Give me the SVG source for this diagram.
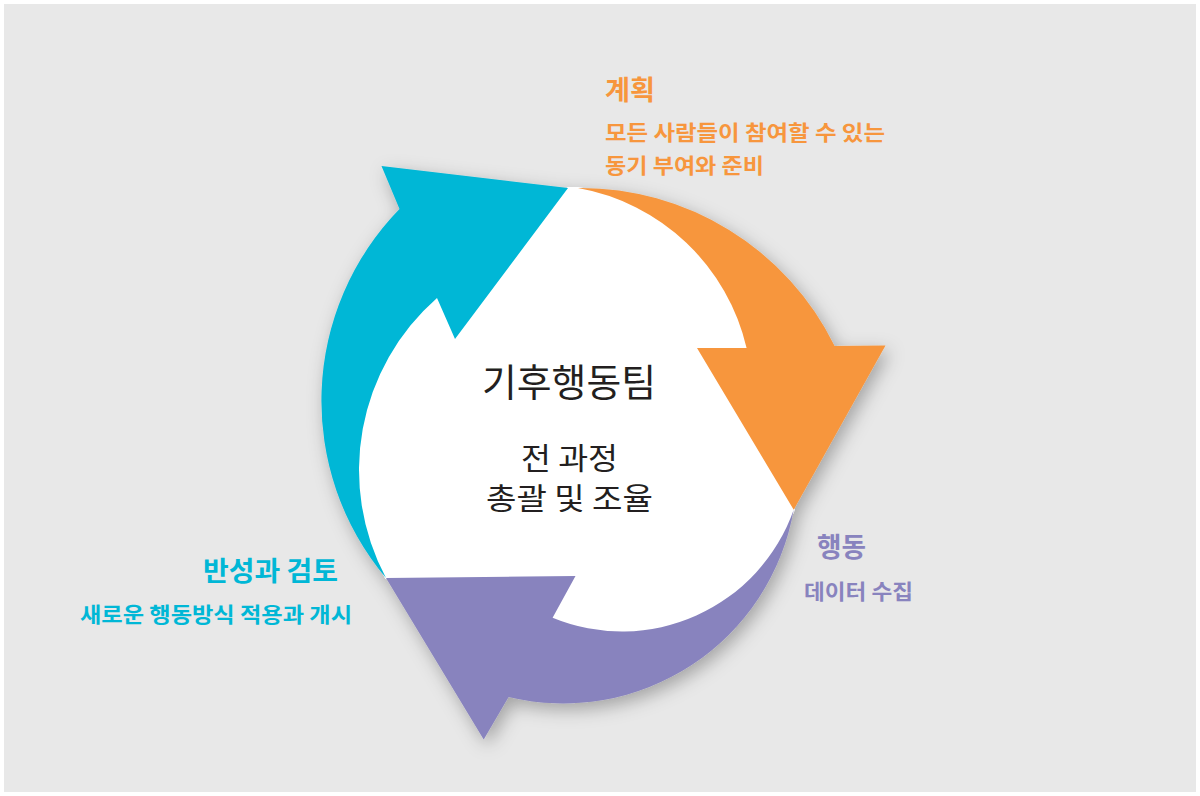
<svg xmlns="http://www.w3.org/2000/svg" width="1200" height="796" viewBox="0 0 1200 796">
  <style>
    .kr { font-family: "Noto Sans CJK KR", "Noto Sans", sans-serif; }
    .title { font-size: 27px; font-weight: bold; }
    .sub { font-size: 21px; font-weight: bold; }
    .center { fill: #231f20; text-anchor: middle; }
    .orange { fill: #F7963D; }
    .cyan { fill: #00B7D6; }
    .purple { fill: #8883BE; }
  </style>
  <defs>
    <filter id="shadow" x="-20%" y="-20%" width="140%" height="140%">
      <feDropShadow dx="4" dy="6" stdDeviation="9" flood-color="#000" flood-opacity="0.3"/>
    </filter>
  </defs>
  <rect x="0" y="0" width="1200" height="796" fill="#ffffff"/>
  <rect x="4" y="4" width="1192" height="788" fill="#e8e8e8"/>

  <g id="cycle" filter="url(#shadow)">
    <path id="hub" fill="#ffffff" stroke="#ffffff" stroke-width="2"
      d="M578,188 A211,211 0 0 1 746.6,348 L697,348 L793.7,509.7 A182,182 0 0 1 552.6,617.7 L575.5,576 L386,578 A229,229 0 0 1 437,298 L455,339 L568,188 Z"/>
    <g id="connectors">
      <path id="arrow-action" class="purple"
        d="M793.7,509.7 A234,234 0 0 1 508.6,697 L483.7,739.5 L386,578 L575.5,576 L552.6,617.7 A182,182 0 0 0 793.7,509.7 Z"/>
      <path id="arrow-plan" class="orange"
        d="M578,188 A283,283 0 0 1 834.6,346 L885.5,345.5 L793.7,509.7 L697,348 L746.6,348 A211,211 0 0 0 578,188 Z"/>
      <path id="arrow-review" class="cyan"
        d="M386,578 A275,275 0 0 1 399.5,209 L381.5,166 L568,188 L455,339 L437,298 A229,229 0 0 0 386,578 Z"/>
    </g>
  </g>

  <g id="node-center" class="kr">
    <text x="569" y="396" class="center" style="font-size:38px" textLength="174" lengthAdjust="spacingAndGlyphs">기후행동팀</text>
    <text x="569.5" y="469" class="center" style="font-size:30px" textLength="97" lengthAdjust="spacingAndGlyphs">전 과정</text>
    <text x="569.5" y="509" class="center" style="font-size:30px" textLength="167" lengthAdjust="spacingAndGlyphs">총괄 및 조율</text>
  </g>

  <g id="node-plan" class="kr orange">
    <text x="605" y="100" class="title" textLength="50" lengthAdjust="spacingAndGlyphs">계획</text>
    <text x="605" y="140" class="sub" textLength="280" lengthAdjust="spacingAndGlyphs">모든 사람들이 참여할 수 있는</text>
    <text x="605" y="173" class="sub" textLength="159" lengthAdjust="spacingAndGlyphs">동기 부여와 준비</text>
  </g>

  <g id="node-action" class="kr purple">
    <text x="817" y="557" class="title" textLength="49" lengthAdjust="spacingAndGlyphs">행동</text>
    <text x="804" y="599" class="sub" textLength="109" lengthAdjust="spacingAndGlyphs">데이터 수집</text>
  </g>

  <g id="node-review" class="kr cyan">
    <text x="203" y="581" class="title" textLength="135" lengthAdjust="spacingAndGlyphs">반성과 검토</text>
    <text x="80" y="622" class="sub" textLength="272" lengthAdjust="spacingAndGlyphs">새로운 행동방식 적용과 개시</text>
  </g>
</svg>
